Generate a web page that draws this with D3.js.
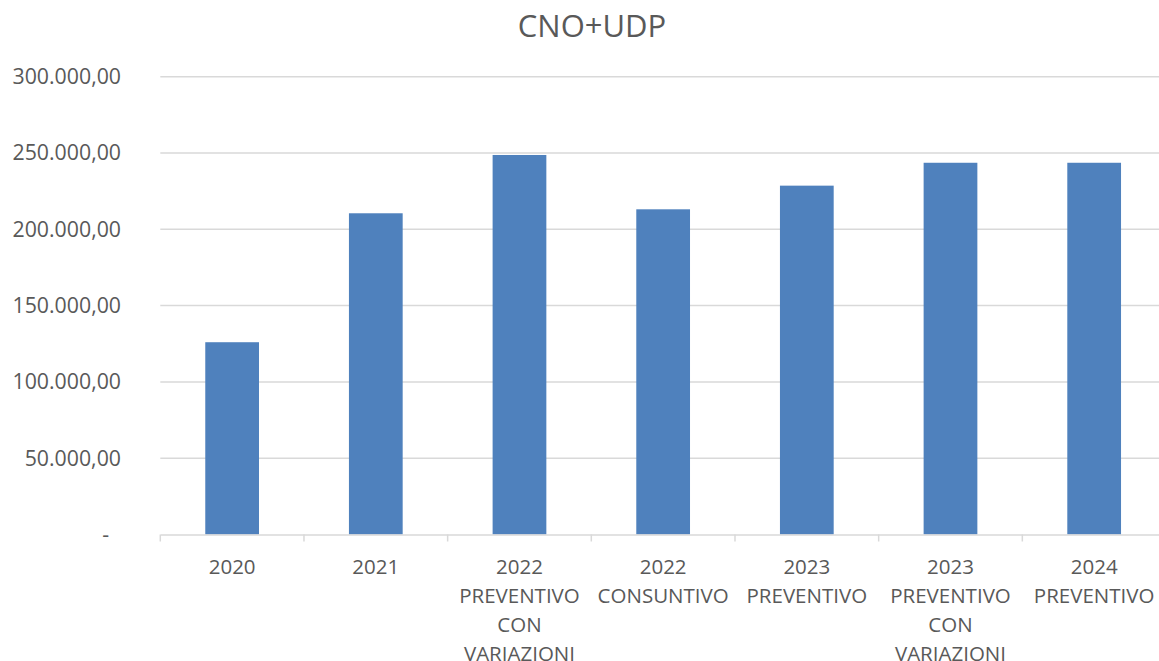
<!DOCTYPE html>
<html>
<head>
<meta charset="utf-8">
<script src="https://cdn.jsdelivr.net/npm/d3@7"></script>
<style>
  body { margin: 0; background: #fff; }
  svg { display: block; font-family: 'Open Sans', sans-serif; }
</style>
</head>
<body>
<div id="chart"></div>
<script>
'use strict';

const categories = [
    ['2020'],
    ['2021'],
    ['2022', 'PREVENTIVO', 'CON', 'VARIAZIONI'],
    ['2022', 'CONSUNTIVO'],
    ['2023', 'PREVENTIVO'],
    ['2023', 'PREVENTIVO', 'CON', 'VARIAZIONI'],
    ['2024', 'PREVENTIVO']
];
const values = [126000, 210500, 248700, 213100, 228600, 243600, 243600];
const yTicks = [0, 50000, 100000, 150000, 200000, 250000, 300000];
const title = 'CNO+UDP';

const width = 1159,
    height = 661;

const margin = { top: 76.7, right: -7, bottom: 126.5, left: 160.3 };

const svg = d3.select('#chart').append('svg')
    .attr('width', width)
    .attr('height', height);

const x = d3.scaleBand()
    .domain(d3.range(categories.length))
    .range([margin.left, width - margin.right])
    .paddingInner(0.626)
    .paddingOuter(0.313);

const xOuter = d3.scaleBand()
    .domain(d3.range(categories.length))
    .range([margin.left, width - margin.right]);

const y = d3.scaleLinear()
    .domain([0, 300000])
    .range([height - margin.bottom, margin.top]);

const fmt = function(v) {
    if (v === 0) return '-';
    let s = d3.format(',.2f')(v);
    return s.replace(/,/g, '#').replace('.', ',').replace(/#/g, '.');
};

// title
svg.append('text')
    .attr('x', 592)
    .attr('y', 37)
    .attr('text-anchor', 'middle')
    .attr('fill', '#595959')
    .attr('font-size', 31)
    .text(title);

// gridlines
svg.append('g')
    .selectAll('line')
    .data(yTicks.filter(d => d > 0))
    .enter()
    .append('line')
    .attr('x1', margin.left)
    .attr('x2', width)
    .attr('y1', d => y(d))
    .attr('y2', d => y(d))
    .attr('stroke', '#d9d9d9')
    .attr('stroke-width', 1.5);

// y labels
svg.append('g')
    .selectAll('text')
    .data(yTicks)
    .enter()
    .append('text')
    .attr('x', d => d === 0 ? 109 : 121)
    .attr('y', d => y(d))
    .attr('dy', '0.35em')
    .attr('text-anchor', 'end')
    .attr('fill', '#595959')
    .attr('font-size', 21.3)
    .text(fmt);

// bars
svg.append('g')
    .selectAll('rect')
    .data(values)
    .enter()
    .append('rect')
    .attr('x', (d, i) => x(i))
    .attr('width', x.bandwidth())
    .attr('y', d => y(d))
    .attr('height', d => y(0) - y(d))
    .attr('fill', '#4f81bd');

// x axis
const xAxis = d3.axisBottom(xOuter).tickFormat('').tickSize(0);
const axisG = svg.append('g')
    .attr('transform', 'translate(0,' + y(0) + ')')
    .call(xAxis);
axisG.select('.domain').attr('stroke', '#d9d9d9').attr('stroke-width', 1.5);

axisG.selectAll('.boundary')
    .data(d3.range(categories.length + 1))
    .enter()
    .append('line')
    .attr('class', 'boundary')
    .attr('x1', i => margin.left + i * xOuter.step())
    .attr('x2', i => margin.left + i * xOuter.step())
    .attr('y1', 0)
    .attr('y2', 7)
    .attr('stroke', '#d9d9d9')
    .attr('stroke-width', 1.5);

// category labels
const labels = svg.append('g')
    .selectAll('text')
    .data(categories)
    .enter()
    .append('text')
    .attr('text-anchor', 'middle')
    .attr('fill', '#595959')
    .attr('font-size', 20.5);

labels.selectAll('tspan')
    .data((d, i) => d.map(line => ({ line: line, i: i })))
    .enter()
    .append('tspan')
    .attr('x', d => xOuter(d.i) + xOuter.bandwidth() / 2)
    .attr('y', (d, j) => 573.5 + j * 29)
    .text(d => d.line);
</script>
</body>
</html>
